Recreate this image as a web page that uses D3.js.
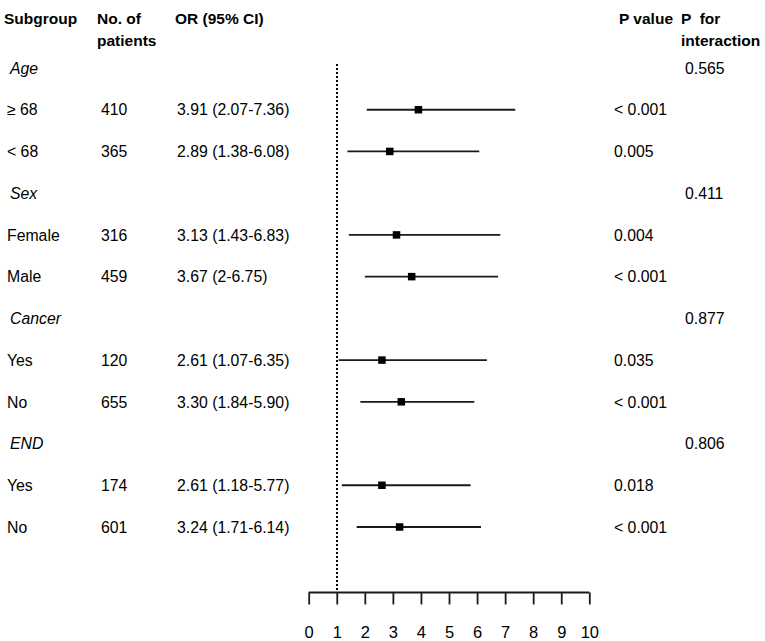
<!DOCTYPE html>
<html>
<head>
<meta charset="utf-8">
<script src="https://cdn.jsdelivr.net/npm/d3@7"></script>
<style>
  html, body { margin: 0; padding: 0; background: #fff; }
  text { font-family: "Liberation Sans", Arial, Helvetica, sans-serif; fill: #000; white-space: pre; }
</style>
</head>
<body>
<svg id="chart" width="765" height="641"></svg>
<script>
// ---- data ----
const labels   = ["Age", "\u2265 68", "< 68", "Sex", "Female", "Male", "Cancer", "Yes", "No", "END", "Yes", "No"];
const isGroup  = [true, false, false, true, false, false, true, false, false, true, false, false];
const patients = ["", "410", "365", "", "316", "459", "", "120", "655", "", "174", "601"];
const orText   = ["", "3.91 (2.07-7.36)", "2.89 (1.38-6.08)", "", "3.13 (1.43-6.83)", "3.67 (2-6.75)", "", "2.61 (1.07-6.35)", "3.30 (1.84-5.90)", "", "2.61 (1.18-5.77)", "3.24 (1.71-6.14)"];
const orVal    = [null, 3.91, 2.89, null, 3.13, 3.67, null, 2.61, 3.30, null, 2.61, 3.24];
const ciLow    = [null, 2.07, 1.38, null, 1.43, 2.00, null, 1.07, 1.84, null, 1.18, 1.71];
const ciHigh   = [null, 7.36, 6.08, null, 6.83, 6.75, null, 6.35, 5.90, null, 5.77, 6.14];
const pValue   = ["", "< 0.001", "0.005", "", "0.004", "< 0.001", "", "0.035", "< 0.001", "", "0.018", "< 0.001"];
const pInter   = ["0.565", "", "", "0.411", "", "", "0.877", "", "", "0.806", "", ""];
const xTicks   = [0, 1, 2, 3, 4, 5, 6, 7, 8, 9, 10];
const refLine  = 1;

// ---- layout ----
const svg = d3.select("#chart");
const x = d3.scaleLinear().domain([0, 10]).range([308.7, 589.3]);
const y = d3.scaleLinear().domain([0, labels.length - 1]).range([68, 527]);
const axisY = 592.5;
const fs = "15.8px";

const rows = labels.map((l, i) => ({
  label: l, group: isGroup[i], n: patients[i], or: orText[i],
  v: orVal[i], lo: ciLow[i], hi: ciHigh[i], p: pValue[i], pi: pInter[i], i
}));

// headers
const headers = [
  {t: "Subgroup", x: 4, y: 18},
  {t: "No. of", x: 97, y: 18},
  {t: "patients", x: 97, y: 40},
  {t: "OR (95% CI)", x: 175, y: 18},
  {t: "P value", x: 619, y: 18},
  {t: "P  for", x: 681, y: 18},
  {t: "interaction", x: 681, y: 40}
];
svg.append("g").selectAll("text").data(headers).join("text")
  .attr("x", d => d.x).attr("y", d => d.y).attr("dy", "0.36em")
  .style("font-size", "15.5px").style("font-weight", "bold")
  .text(d => d.t);

// row texts
const g = svg.append("g");
g.selectAll("text.lab").data(rows).join("text").attr("class", "lab")
  .attr("x", d => d.group ? 10 : 7).attr("y", d => y(d.i)).attr("dy", "0.36em")
  .style("font-size", fs).style("font-style", d => d.group ? "italic" : "normal")
  .text(d => d.label);
g.selectAll("text.n").data(rows.filter(d => d.n)).join("text").attr("class", "n")
  .attr("x", 101).attr("y", d => y(d.i)).attr("dy", "0.36em")
  .style("font-size", fs).text(d => d.n);
g.selectAll("text.or").data(rows.filter(d => d.or)).join("text").attr("class", "or")
  .attr("x", 177).attr("y", d => y(d.i)).attr("dy", "0.36em")
  .style("font-size", fs).text(d => d.or);
g.selectAll("text.p").data(rows.filter(d => d.p)).join("text").attr("class", "p")
  .attr("x", 614).attr("y", d => y(d.i)).attr("dy", "0.36em")
  .style("font-size", fs).text(d => d.p);
g.selectAll("text.pi").data(rows.filter(d => d.pi)).join("text").attr("class", "pi")
  .attr("x", 685).attr("y", d => y(d.i)).attr("dy", "0.36em")
  .style("font-size", fs).text(d => d.pi);

// reference dotted line
svg.append("line")
  .attr("x1", Math.round(x(refLine))).attr("x2", Math.round(x(refLine)))
  .attr("y1", 64).attr("y2", axisY)
  .attr("stroke", "#000").attr("stroke-width", 2)
  .attr("stroke-dasharray", "2,2");

// CI lines and squares
const est = rows.filter(d => d.v != null);
svg.append("g").selectAll("line").data(est).join("line")
  .attr("x1", d => x(d.lo)).attr("x2", d => x(d.hi))
  .attr("y1", d => y(d.i)).attr("y2", d => y(d.i))
  .attr("stroke", "#1a1a1a").attr("stroke-width", 1.8);
const sq = 7.5;
svg.append("g").selectAll("rect").data(est).join("rect")
  .attr("x", d => x(d.v) - sq / 2).attr("y", d => y(d.i) - sq / 2)
  .attr("width", sq).attr("height", sq).attr("fill", "#000");

// axis
const axis = d3.axisBottom(x).tickValues(xTicks).tickSize(12).tickPadding(22).tickFormat(d3.format("d"));
const ag = svg.append("g").attr("transform", `translate(0,${axisY})`).call(axis);
ag.select(".domain").attr("stroke", "#1a1a1a").attr("stroke-width", 1.8).attr("d", `M${x(0)},0H${x(10)}`);
ag.selectAll(".tick line").attr("stroke", "#1a1a1a").attr("stroke-width", 1.8);
ag.selectAll(".tick text").style("font-size", "16.5px").style("font-family", "'Liberation Sans', Arial, sans-serif").attr("fill", "#000");
</script>
</body>
</html>
